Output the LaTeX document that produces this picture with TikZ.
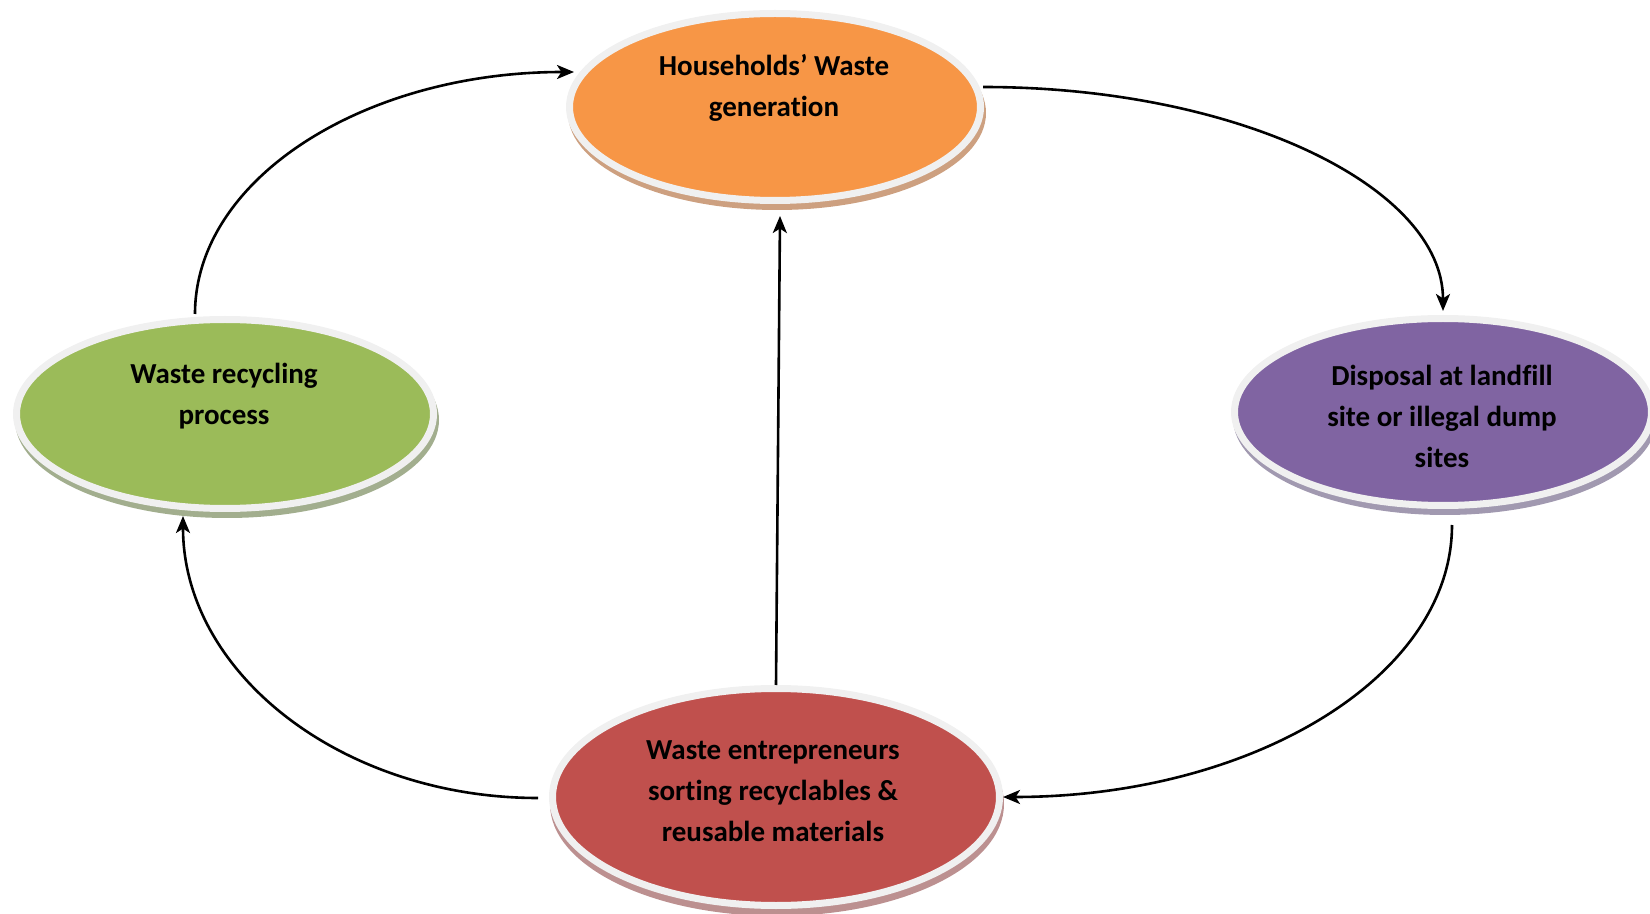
\documentclass[tikz,border=0pt]{standalone}
\usepackage{fontspec}
\setmainfont{Carlito}[Ligatures=NoCommon]
\usetikzlibrary{calc,arrows.meta,shapes.geometric}

% fills, rims and under-shadows of the four stages
\definecolor{orangefill}{HTML}{F79646}
\definecolor{greenfill}{HTML}{9BBB59}
\definecolor{purplefill}{HTML}{8064A2}
\definecolor{redfill}{HTML}{C0504D}
\definecolor{rimgrey}{HTML}{F0F0F0}
\definecolor{orangeshade}{HTML}{CDA080}
\definecolor{greenshade}{HTML}{A2AE8E}
\definecolor{purpleshade}{HTML}{A199B0}
\definecolor{redshade}{HTML}{BC9090}

\begin{document}
\begin{tikzpicture}[x=0.5pt,y=-0.5pt,
  blobstyle/.style={ellipse, inner sep=0pt, draw=rimgrey, line width=3.5pt},
  shadestyle/.style={ellipse, inner sep=0pt, draw=none},
  txt/.style={font=\bfseries\fontsize{14.5}{20.5}\selectfont, align=center, text=black, inner sep=0pt},
  conn/.style={line width=1.3pt, -{Stealth[length=8.5pt,width=7pt,inset=2.2pt]}}]
\useasboundingbox (0,0) rectangle (1650,914);

% under-shadows
\node[shadestyle, fill=orangeshade, minimum width=209pt, minimum height=97pt] (topS) at (777,113) {};
\node[shadestyle, fill=greenshade, minimum width=212pt, minimum height=98pt] (leftS) at (227,420) {};
\node[shadestyle, fill=purpleshade, minimum width=212pt, minimum height=97pt] (rightS) at (1445,418) {};
\node[shadestyle, fill=redshade, minimum width=227pt, minimum height=112pt] (botS) at (777,804) {};

% the four stages
\node[blobstyle, fill=orangefill, minimum width=205.5pt, minimum height=93.5pt] (top) at (775,107) {};
\node[blobstyle, fill=greenfill, minimum width=208.5pt, minimum height=94.5pt] (left) at (225,414) {};
\node[blobstyle, fill=purplefill, minimum width=208.5pt, minimum height=93.5pt] (right) at (1443,412) {};
\node[blobstyle, fill=redfill, minimum width=223.5pt, minimum height=108.5pt] (bot) at (776,797) {};

% stage texts
\node[txt] (topT) at (774,88) {Households’ Waste\\generation};
\node[txt] (leftT) at (224,396) {Waste recycling\\process};
\node[txt] (rightT) at (1442,416) {Disposal at landfill\\site or illegal dump\\sites};
\node[txt] (botT) at (773,791) {Waste entrepreneurs\\sorting recyclables \&\\reusable materials};

% cycle connectors
\draw[conn] ($(top.east)+(-1,-20)$) .. controls +(255,0) and +(0,-124) .. ($(right.north)+(0,-4)$);
\draw[conn] ($(right.south)+(9,16)$) .. controls +(0,152) and +(249,0) .. (bot.east);
\draw[conn] ($(bot.west)+(-11,1)$) .. controls +(-196,0) and +(0,157) .. ($(left.south)+(-42,4)$);
\draw[conn] ($(left.north)+(-30,-2)$) .. controls +(0,-135) and +(-210,0) .. ($(top.west)+(8,-35)$);
\draw[conn] (bot.north) -- ($(top.south)+(5,12)$);
\end{tikzpicture}
\end{document}
